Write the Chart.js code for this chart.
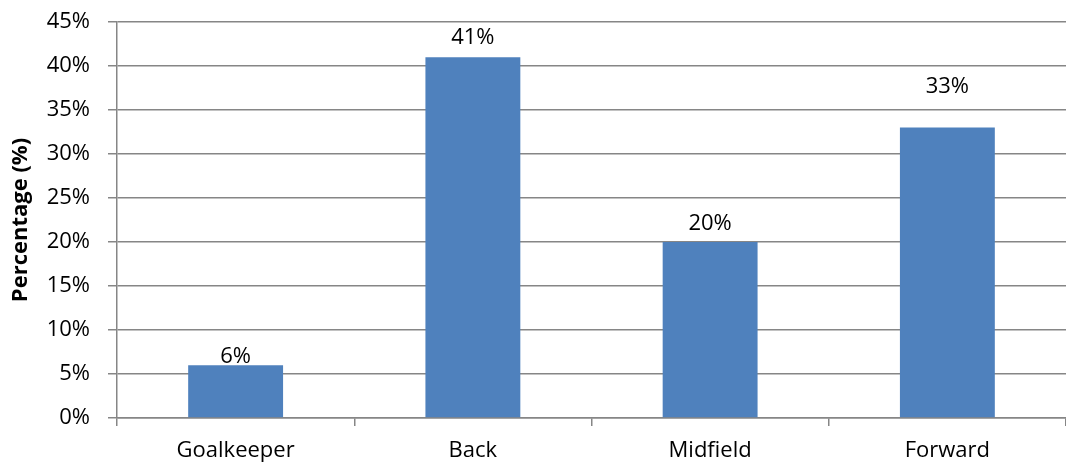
<!DOCTYPE html>
<html>
<head>
<meta charset="utf-8">
<script src="https://cdn.jsdelivr.net/npm/chart.js@4/dist/chart.umd.min.js"></script>
<style>
  html, body { margin: 0; padding: 0; background: #fff; }
  #wrap { width: 1066px; height: 464px; }
</style>
</head>
<body>
<div id="wrap"><canvas id="chartPostes"></canvas></div>
<script>
// data
const categories = ['Goalkeeper', 'Back', 'Midfield', 'Forward'];
const percentages = [6, 41, 20, 33];
const valueLabels = ['6%', '41%', '20%', '33%'];
const yTicks = [0, 5, 10, 15, 20, 25, 30, 35, 40, 45];

// distance from bar top to the label baseline (px), like the original
const labelGap = [2, 13, 12, 35];

const FONT = '"Open Sans", Lato, sans-serif';

// --- etiquettes des barres ---
const barLabels = {
  id: 'barLabels',
  afterDatasetsDraw(chart) {
    const ctx = chart.ctx;
    const meta = chart.getDatasetMeta(0);
    ctx.save();
    ctx.font = '22px ' + FONT;
    ctx.fillStyle = '#000';
    ctx.textAlign = 'center';
    ctx.textBaseline = 'alphabetic';
    meta.data.forEach(function (bar, i) {
      ctx.fillText(valueLabels[i], bar.x, bar.y - labelGap[i]);
    });
    ctx.restore();
  }
};

const ctx = document.getElementById('chartPostes');
new Chart(ctx.getContext('2d'), {
  type: 'bar',
  data: {
    labels: categories,
    datasets: [{
      data: percentages,
      backgroundColor: '#4f81bd',
      borderWidth: 0,
      categoryPercentage: 1,
      barPercentage: 0.4
    }]
  },
  options: {
    responsive: true,
    maintainAspectRatio: false,
    animation: false,
    layout: { padding: { top: 22, right: -4, bottom: 0, left: 0 } },
    plugins: {
      legend: { display: false },
      tooltip: { enabled: false }
    },
    scales: {
      x: {
        offset: true,
        afterFit: function (scale) { scale.height = 46; },
        grid: {
          offset: true,
          drawOnChartArea: false,
          drawTicks: true,
          tickLength: 8,
          color: '#868686',
          lineWidth: 1.5
        },
        border: { color: '#868686', width: 1.5 },
        ticks: { color: '#000', font: { family: FONT, size: 22 }, padding: 12, maxRotation: 0 }
      },
      y: {
        min: 0,
        max: 45,
        afterBuildTicks: function (scale) {
          scale.ticks = yTicks.map(function (v) { return { value: v }; });
        },
        afterFit: function (scale) {
          scale.width = 117;
          scale.paddingTop = 0;
          scale.paddingBottom = 0;
        },
        grid: {
          color: '#868686',
          lineWidth: 1.5,
          tickLength: 9
        },
        border: { color: '#868686', width: 1.5 },
        ticks: {
          color: '#000',
          font: { family: FONT, size: 22 },
          padding: 18,
          callback: function (v) { return v + '%'; }
        },
        title: {
          display: true,
          text: 'Percentage (%)',
          color: '#000',
          font: { family: FONT, size: 22, weight: 'bold' },
          padding: { top: 8, bottom: 0 }
        }
      }
    }
  },
  plugins: [barLabels]
});
</script>
</body>
</html>
